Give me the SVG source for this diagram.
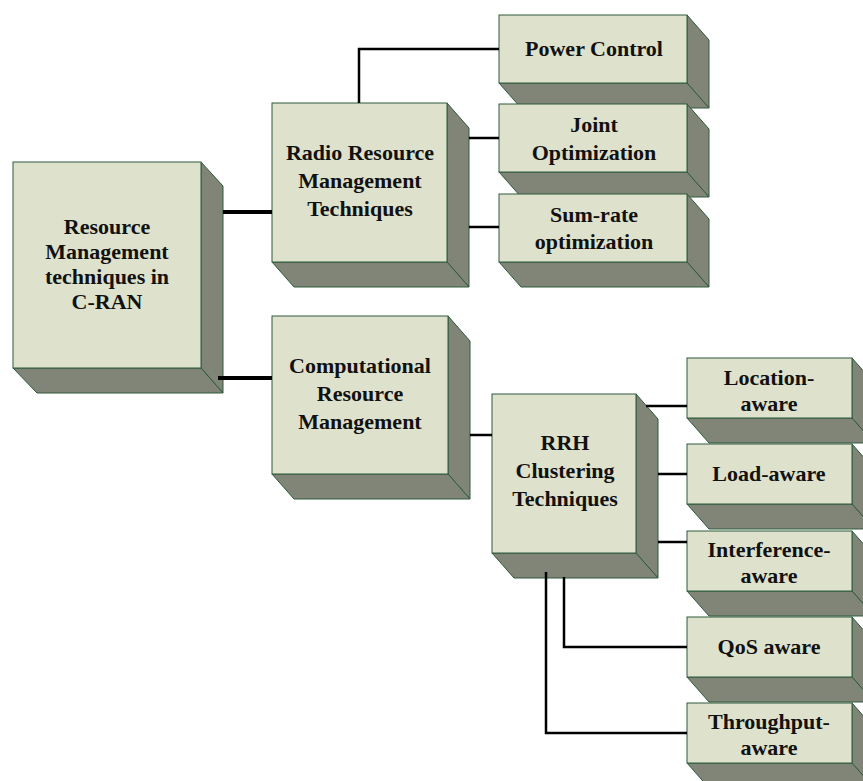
<svg xmlns="http://www.w3.org/2000/svg" width="863" height="781" viewBox="0 0 863 781">
<style>
.f{fill:#DEE1CC;stroke:#2E5A3C;stroke-width:1}
.s{fill:#818577;stroke:#2E5A3C;stroke-width:1;stroke-linejoin:round}
.t{font-family:"Liberation Serif","Times New Roman",serif;font-weight:bold;font-size:22px;fill:#111;text-anchor:middle}
.c{fill:none;stroke:#000;stroke-width:2.5}
.w{stroke-width:4}
</style>
<rect width="863" height="781" fill="#fff"/>
<g id="root">
<polygon class="s" points="201,162 223,186 223,393 201,368"/>
<polygon class="s" points="13,368 201,368 223,393 37,393"/>
<rect class="f" x="13" y="162" width="188" height="206"/>
<text class="t" x="107" y="234">Resource</text>
<text class="t" x="107" y="259">Management</text>
<text class="t" x="107" y="284">techniques in</text>
<text class="t" x="107" y="309">C-RAN</text>
</g>
<g id="radio">
<polygon class="s" points="447,103 469,128 469,287 447,262"/>
<polygon class="s" points="272,262 447,262 469,287 294,287"/>
<rect class="f" x="272" y="103" width="175" height="159"/>
<text class="t" x="360" y="160">Radio Resource</text>
<text class="t" x="360" y="188">Management</text>
<text class="t" x="360" y="216">Techniques</text>
</g>
<g id="comp">
<polygon class="s" points="448,316 470,341 470,499 448,474"/>
<polygon class="s" points="272,474 448,474 470,499 294,499"/>
<rect class="f" x="272" y="316" width="176" height="158"/>
<text class="t" x="360" y="373">Computational</text>
<text class="t" x="360" y="401">Resource</text>
<text class="t" x="360" y="429">Management</text>
</g>
<g id="power">
<polygon class="s" points="687,15 709,40 709,108 687,83"/>
<polygon class="s" points="499,83 687,83 709,108 521,108"/>
<rect class="f" x="499" y="15" width="188" height="68"/>
<text class="t" x="594" y="56">Power Control</text>
</g>
<g id="joint">
<polygon class="s" points="687,104 709,129 709,197 687,172"/>
<polygon class="s" points="499,172 687,172 709,197 521,197"/>
<rect class="f" x="499" y="104" width="188" height="68"/>
<text class="t" x="594" y="132">Joint</text>
<text class="t" x="594" y="160">Optimization</text>
</g>
<g id="sumrate">
<polygon class="s" points="687,194 709,219 709,287 687,262"/>
<polygon class="s" points="499,262 687,262 709,287 521,287"/>
<rect class="f" x="499" y="194" width="188" height="68"/>
<text class="t" x="594" y="222">Sum-rate</text>
<text class="t" x="594" y="249">optimization</text>
</g>
<g id="rrh">
<polygon class="s" points="636,394 658,419 658,578 636,553"/>
<polygon class="s" points="492,553 636,553 658,578 514,578"/>
<rect class="f" x="492" y="394" width="144" height="159"/>
<text class="t" x="565" y="450">RRH</text>
<text class="t" x="565" y="478">Clustering</text>
<text class="t" x="565" y="506">Techniques</text>
</g>
<g id="location">
<polygon class="s" points="852,358 874,383 874,443 852,418"/>
<polygon class="s" points="687,418 852,418 874,443 709,443"/>
<rect class="f" x="687" y="358" width="165" height="60"/>
<text class="t" x="769" y="385">Location-</text>
<text class="t" x="769" y="411">aware</text>
</g>
<g id="load">
<polygon class="s" points="852,444 874,469 874,529 852,504"/>
<polygon class="s" points="687,504 852,504 874,529 709,529"/>
<rect class="f" x="687" y="444" width="165" height="60"/>
<text class="t" x="769" y="481">Load-aware</text>
</g>
<g id="interference">
<polygon class="s" points="852,531 874,556 874,616 852,591"/>
<polygon class="s" points="687,591 852,591 874,616 709,616"/>
<rect class="f" x="687" y="531" width="165" height="60"/>
<text class="t" x="769" y="557">Interference-</text>
<text class="t" x="769" y="583">aware</text>
</g>
<g id="qos">
<polygon class="s" points="852,617 874,642 874,702 852,677"/>
<polygon class="s" points="687,677 852,677 874,702 709,702"/>
<rect class="f" x="687" y="617" width="165" height="60"/>
<text class="t" x="769" y="654">QoS aware</text>
</g>
<g id="throughput">
<polygon class="s" points="852,703 874,728 874,788 852,763"/>
<polygon class="s" points="687,763 852,763 874,788 709,788"/>
<rect class="f" x="687" y="703" width="165" height="60"/>
<text class="t" x="769" y="729">Throughput-</text>
<text class="t" x="769" y="755">aware</text>
</g>
<g id="connectors">
<path class="c w" d="M223,212 H272"/>
<path class="c w" d="M218,378 H272"/>
<path class="c" d="M359,103 V49 H499"/>
<path class="c" d="M469,138 H499"/>
<path class="c" d="M469,227 H499"/>
<path class="c" d="M470,435 H492"/>
<path class="c" d="M646,406 H687"/>
<path class="c" d="M658,474 H687"/>
<path class="c" d="M658,542 H687"/>
<path class="c" d="M564,577 V647 H687"/>
<path class="c" d="M546,572 V733 H687"/>
</g>
</svg>
